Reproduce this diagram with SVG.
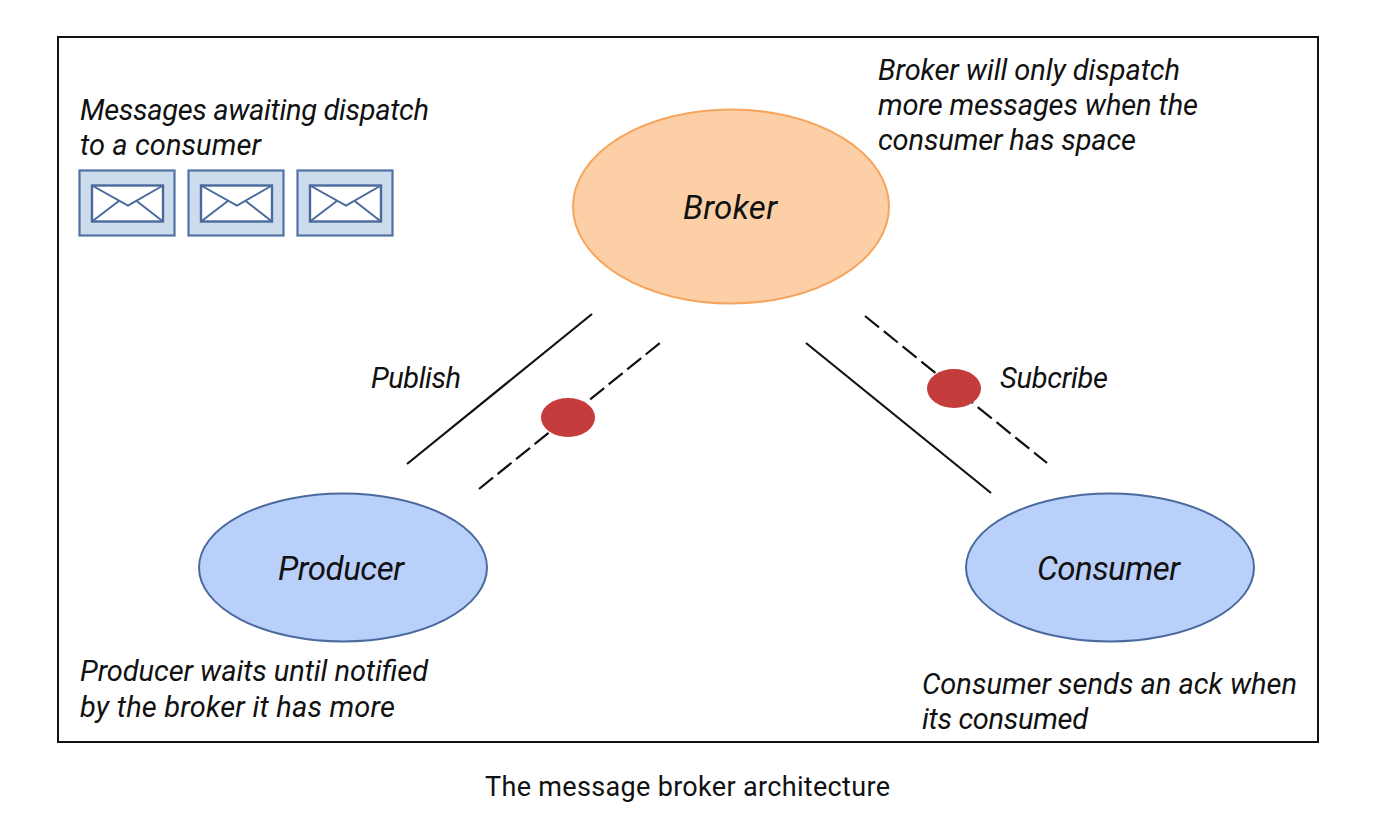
<svg xmlns="http://www.w3.org/2000/svg" width="1390" height="830" viewBox="0 0 1390 830">
<defs>
<style>
text{font-family:"Roboto","Liberation Sans",sans-serif;fill:#111}
.n{font-style:italic;font-size:29px}
.l{font-style:italic;font-size:33px}
.c{font-size:27px}
.el{fill:#b9d0fb;stroke:#4a6a9e;stroke-width:2}
.env{fill:#cddcec;stroke:#5072a4;stroke-width:2.200}
.m{fill:#fff;stroke:#4a6a9e;stroke-width:2.400}
.f{fill:none;stroke:#4a6a9e;stroke-width:2}
.d{fill:#c43c3c}
.s{stroke:#111;stroke-width:2.200;fill:none}
.da{stroke:#111;stroke-width:2.200;fill:none}
</style>
<g id="env"><rect class="env" width="95" height="65"/><rect class="m" x="12.500" y="15" width="71" height="36"/><path class="f" d="M12.500 15L48.500 35L83.500 15M12.500 51L40 30M83.500 51L56.500 30"/></g>
</defs>
<rect x="58" y="37" width="1260" height="705" fill="#fff" stroke="#111" stroke-width="2"/>
<g id="connectors">
<path class="s" d="M592 314L407 464"/><path class="da" stroke-dasharray="18 5.800" d="M479 489L660 343"/>
<path class="s" d="M806 343L991 493"/><path class="da" stroke-dasharray="18 6.150" d="M865 316L1047 463"/>
</g>
<g id="broker"><ellipse cx="731" cy="206.500" rx="158" ry="97" fill="#fdcfa7" stroke="#f5a55e" stroke-width="2"/><text class="l" x="683" y="219" textLength="94">Broker</text></g>
<g id="producer"><ellipse class="el" cx="343" cy="567.500" rx="144" ry="74"/><text class="l" x="278" y="580" textLength="126">Producer</text></g>
<g id="consumer"><ellipse class="el" cx="1110" cy="567.500" rx="144" ry="74"/><text class="l" x="1037" y="580" textLength="143">Consumer</text></g>
<g id="msg-dot-1"><ellipse class="d" cx="568" cy="417.500" rx="27" ry="19.500"/></g>
<g id="msg-dot-2"><ellipse class="d" cx="954" cy="388.500" rx="27" ry="19.500"/></g>
<g id="envelopes"><use href="#env" x="79.500" y="170.500"/><use href="#env" x="188.500" y="170.500"/><use href="#env" x="297.500" y="170.500"/></g>
<text class="n" x="80" y="120" textLength="349">Messages awaiting dispatch</text><text class="n" x="80" y="155" textLength="181">to a consumer</text>
<text class="n" x="878" y="80" textLength="302">Broker will only dispatch</text><text class="n" x="878" y="115" textLength="320">more messages when the</text><text class="n" x="878" y="150" textLength="258">consumer has space</text>
<text class="n" x="371" y="388" textLength="90">Publish</text><text class="n" x="1000" y="388" textLength="108">Subcribe</text>
<text class="n" x="80" y="681" textLength="348">Producer waits until notified</text><text class="n" x="80" y="717" textLength="315">by the broker it has more</text>
<text class="n" x="922" y="694" textLength="375">Consumer sends an ack when</text><text class="n" x="922" y="729" textLength="166">its consumed</text>
<text class="c" x="485" y="796" textLength="405">The message broker architecture</text>
</svg>
